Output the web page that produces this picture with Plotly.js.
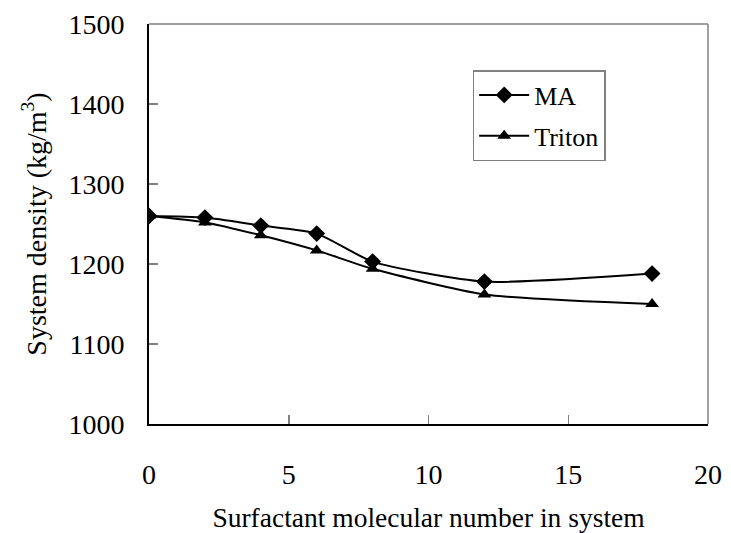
<!DOCTYPE html>
<html>
<head>
<meta charset="utf-8">
<script src="https://cdn.plot.ly/plotly-3.0.1.min.js"></script>
<style>
  html, body { margin: 0; padding: 0; background: #fff; }
  #chart { width: 731px; height: 533px; }
</style>
</head>
<body>
<div id="chart"></div>
<script>
// Surfactant molecules in the system
const molecules = [0, 2, 4, 6, 8, 12, 18];
// System density (kg/m3) for each surfactant
const densityMA = [1260, 1258, 1248, 1238, 1203, 1178, 1188];
const densityTriton = [1260, 1252, 1236, 1217, 1194, 1162, 1150];

const xTicks = [0, 5, 10, 15, 20];
const yTicks = [1000, 1100, 1200, 1300, 1400, 1500];

const serif = 'Liberation Serif';

const traces = [
  {
    x: molecules, y: densityMA, name: 'MA', legendgroup: 'ma', type: 'scatter', mode: 'lines+markers',
    line: { color: '#000', width: 2, shape: 'spline', smoothing: 0.6 },
    marker: { symbol: 'diamond', size: 13, color: '#000' }
  },
  {
    x: molecules, y: densityTriton, name: 'Triton', legendgroup: 'triton', type: 'scatter', mode: 'lines+markers',
    line: { color: '#000', width: 2, shape: 'spline', smoothing: 0.6 },
    marker: { symbol: 'triangle-up', size: 12, color: '#000' }
  }
];

const layout = {
  width: 731, height: 533,
  margin: { l: 149, r: 23, t: 24, b: 109 },
  paper_bgcolor: '#fff', plot_bgcolor: '#fff',
  font: { family: serif, size: 28, color: '#000' },
  showlegend: true,
  legend: {
    x: 0.579, y: 0.885, xanchor: 'left', yanchor: 'top',
    bgcolor: '#fff', bordercolor: '#808080', borderwidth: 1.5,
    font: { family: serif, size: 26, color: '#000' },
    traceorder: 'grouped', tracegroupgap: 4, itemwidth: 50
  },
  xaxis: {
    range: [0, 20], tickvals: xTicks, ticktext: xTicks.map(String),
    showgrid: false, zeroline: false,
    showline: true, linecolor: '#000', linewidth: 2,
    ticks: 'inside', ticklen: 9, tickcolor: '#808080', tickwidth: 1.5,
    ticklabelstandoff: 24,
    tickfont: { family: serif, size: 28 },
    title: { text: 'Surfactant molecular number in system', font: { family: serif, size: 27.5 }, standoff: 20 }
  },
  yaxis: {
    range: [1000, 1500], tickvals: yTicks, ticktext: yTicks.map(String),
    showgrid: false, zeroline: false,
    showline: true, linecolor: '#000', linewidth: 2,
    ticks: 'inside', ticklen: 9, tickcolor: '#808080', tickwidth: 1.5,
    ticklabelstandoff: 17,
    tickfont: { family: serif, size: 28 },
    title: { text: 'System density (kg/m<sup>3</sup>)', font: { family: serif, size: 28 }, standoff: 14 }
  },
  shapes: [
    { type: 'line', xref: 'paper', yref: 'paper', x0: 0, x1: 1, y0: 1, y1: 1, line: { color: '#808080', width: 1.5 } },
    { type: 'line', xref: 'paper', yref: 'paper', x0: 1, x1: 1, y0: 0, y1: 1, line: { color: '#808080', width: 1.5 } }
  ]
};

Plotly.newPlot('chart', traces, layout, { staticPlot: true, displayModeBar: false });
</script>
</body>
</html>
